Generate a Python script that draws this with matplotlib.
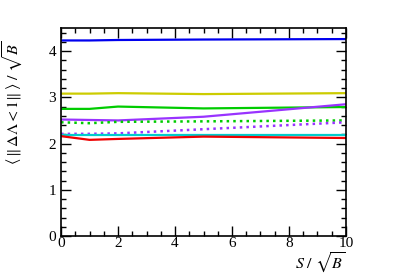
import matplotlib.pyplot as plt
from matplotlib.ticker import MultipleLocator

plt.rcParams['font.family'] = ['Liberation Serif', 'DejaVu Serif']
plt.rcParams['mathtext.fontset'] = 'stix'

# Data
x = [0, 1, 2, 5, 10]
blue = [4.23, 4.23, 4.24, 4.25, 4.26]
yellow = [3.08, 3.08, 3.09, 3.07, 3.09]
green = [2.75, 2.75, 2.80, 2.76, 2.79]
purple = [2.52, 2.51, 2.50, 2.58, 2.85]
green_dot = [2.46, 2.44, 2.47, 2.48, 2.50]
purple_dot = [2.21, 2.21, 2.22, 2.31, 2.46]
cyan = [2.19, 2.19, 2.19, 2.19, 2.19]
red = [2.16, 2.08, 2.10, 2.15, 2.12]

fig = plt.figure(figsize=(4.07, 2.77), dpi=100)
ax = fig.add_axes([0.15, 0.148, 0.70, 0.751])

ax.plot(x, blue, color='#0000ee', lw=1.6)
ax.plot(x, yellow, color='#cccc00', lw=1.6)
ax.plot(x, green, color='#00cc00', lw=1.6)
ax.plot(x, purple, color='#9933ff', lw=1.6)
ax.plot(x, green_dot, color='#00cc00', lw=1.8, ls=':')
ax.plot(x, purple_dot, color='#9933ff', lw=1.8, ls=':')
ax.plot(x, cyan, color='#00cccc', lw=1.6)
ax.plot(x, red, color='#ee0000', lw=1.6)

ax.set_xlim(0, 10)
ax.set_ylim(0, 4.5)
ax.xaxis.set_major_locator(MultipleLocator(2))
ax.xaxis.set_minor_locator(MultipleLocator(0.5))
ax.yaxis.set_major_locator(MultipleLocator(1))
ax.yaxis.set_minor_locator(MultipleLocator(0.2))
ax.tick_params(which='both', direction='in', top=True, right=True, labelsize=11, width=1)
ax.tick_params(which='major', length=7)
ax.tick_params(which='minor', length=3.5)
ax.tick_params(axis='x', pad=1)
for s in ax.spines.values():
    s.set_linewidth(1.2)

ax.set_xlabel(r'$S\ /\ \sqrt{B}$', fontsize=11.5, loc='right')
ax.xaxis.set_label_coords(1.0, -0.07)
ax.set_ylabel(r'$\langle\,\|\,\Delta\Lambda < 1\|\,\rangle\ /\ \sqrt{B}$', fontsize=11.5, loc='top')
ax.yaxis.set_label_coords(-0.125, 0.94)

fig.savefig('out.png', dpi=100)
